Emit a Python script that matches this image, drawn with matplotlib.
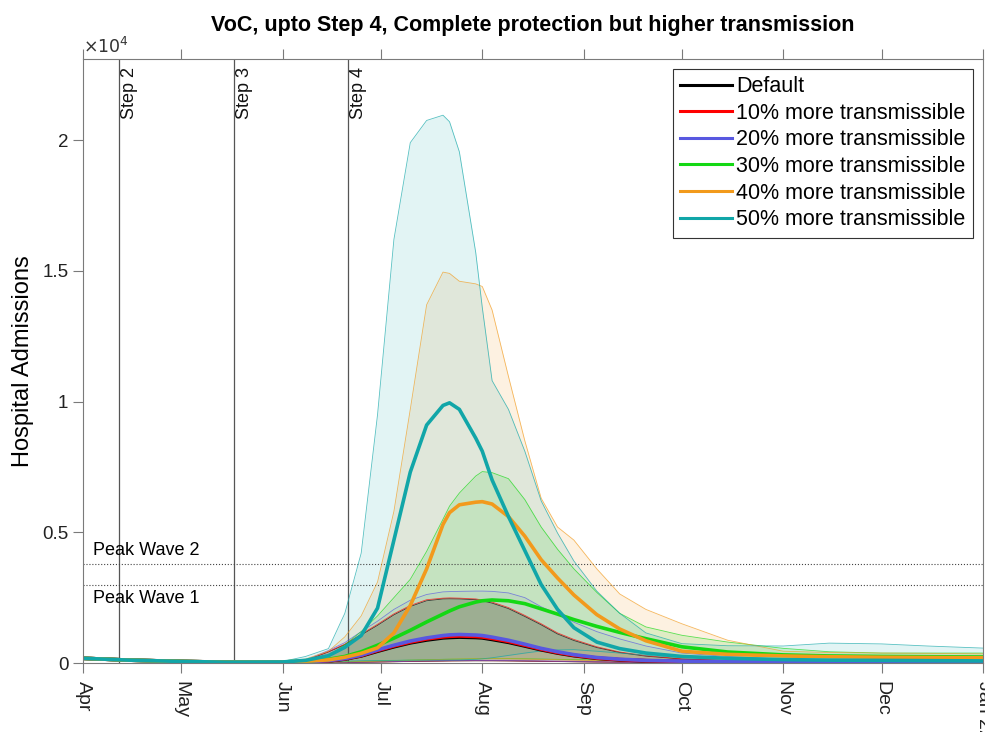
import pandas as pd
import matplotlib.pyplot as plt
import matplotlib.dates as mdates
from matplotlib.ticker import FuncFormatter

# Sample dates (shared by every scenario)
dates = pd.to_datetime([
    '2021-04-01', '2021-04-15', '2021-05-01', '2021-05-15', '2021-06-01', '2021-06-08',
    '2021-06-15', '2021-06-20', '2021-06-25', '2021-06-30', '2021-07-05', '2021-07-10',
    '2021-07-15', '2021-07-20', '2021-07-22', '2021-07-25', '2021-07-30', '2021-08-01',
    '2021-08-04', '2021-08-09', '2021-08-14', '2021-08-19', '2021-08-24', '2021-08-29',
    '2021-09-05', '2021-09-12', '2021-09-20', '2021-10-01', '2021-10-15', '2021-11-01',
    '2021-11-15', '2021-12-01', '2021-12-15', '2022-01-01'])

# Central estimates
default_mid = [180, 110, 60, 30, 35, 48, 80, 150, 270, 450, 620, 770, 880, 960, 975, 990, 975,
               960, 900, 790, 650, 505, 380, 280, 180, 120, 85, 55, 40, 32, 28, 25, 24, 22]
t10_mid = [180, 110, 60, 30, 35, 50, 85, 160, 285, 475, 650, 800, 920, 1000, 1020, 1035, 1015,
           995, 940, 825, 680, 530, 400, 295, 190, 130, 90, 60, 45, 35, 30, 28, 26, 25]
t20_mid = [180, 110, 60, 30, 35, 50, 90, 170, 300, 500, 680, 840, 960, 1050, 1075, 1090, 1070,
           1050, 990, 870, 720, 560, 430, 320, 210, 145, 100, 70, 50, 40, 35, 30, 30, 28]
t30_mid = [180, 110, 60, 30, 40, 70, 140, 250, 430, 680, 950, 1250, 1570, 1870, 1990, 2150, 2330,
           2380, 2410, 2380, 2270, 2070, 1870, 1660, 1400, 1170, 930, 620, 420, 310, 270, 250, 240, 230]
t40_mid = [180, 110, 60, 30, 40, 70, 120, 220, 370, 580, 1150, 2200, 3600, 5300, 5750, 6050, 6150,
           6170, 6080, 5600, 4850, 3950, 3250, 2600, 1850, 1300, 850, 450, 330, 270, 240, 220, 210, 200]
t50_mid = [180, 110, 60, 30, 40, 100, 280, 600, 1050, 2100, 4700, 7300, 9100, 9850, 9950, 9700, 8600,
           8100, 7000, 5600, 4300, 3000, 2050, 1350, 800, 550, 380, 250, 180, 130, 110, 100, 90, 80]

# Upper bounds
default_up = [190, 120, 65, 35, 50, 95, 420, 700, 1070, 1440, 1840, 2160, 2380, 2450, 2455, 2450, 2420,
              2380, 2290, 2080, 1780, 1460, 1110, 860, 590, 400, 260, 150, 95, 65, 50, 42, 38, 33]
t10_up = [190, 120, 65, 35, 50, 100, 440, 720, 1100, 1480, 1880, 2200, 2420, 2480, 2490, 2480, 2450,
          2410, 2330, 2120, 1820, 1500, 1150, 900, 620, 420, 280, 160, 100, 70, 55, 45, 40, 35]
t20_up = [190, 120, 65, 35, 50, 110, 480, 780, 1200, 1600, 2050, 2400, 2620, 2720, 2730, 2740, 2750,
          2750, 2740, 2680, 2500, 2150, 1870, 1560, 1200, 920, 650, 380, 250, 150, 110, 90, 80, 70]
t30_up = [190, 120, 65, 35, 50, 100, 250, 700, 1200, 1800, 2500, 3200, 4270, 5500, 6000, 6500, 7150,
          7320, 7280, 7050, 6250, 5200, 4350, 3600, 2700, 1900, 1380, 1060, 800, 560, 430, 380, 380, 380]
t40_up = [190, 120, 65, 35, 60, 150, 450, 1000, 1800, 3100, 5800, 9700, 13700, 14950, 14900, 14600, 14500,
          14400, 13500, 10960, 8500, 6300, 5200, 4700, 3600, 2640, 2050, 1500, 870, 450, 400, 380, 370, 350]
t50_up = [200, 130, 70, 40, 60, 250, 550, 1900, 4200, 9500, 16200, 19900, 20750, 20950, 20700, 19550, 15700,
          13600, 10800, 9700, 8100, 6200, 4970, 3900, 2750, 1900, 1150, 740, 660, 650, 760, 730, 650, 570]

# Lower bounds
default_lo = [150, 90, 50, 22, 12, 12, 15, 20, 28, 38, 48, 58, 68, 76, 80, 82, 85,
              85, 84, 80, 72, 64, 56, 48, 38, 30, 24, 18, 14, 11, 10, 9, 8, 8]
t10_lo = [150, 90, 50, 22, 12, 13, 16, 22, 30, 40, 50, 62, 72, 80, 83, 86, 90,
          89, 88, 84, 76, 68, 58, 50, 40, 32, 25, 19, 15, 12, 10, 9, 9, 8]
t20_lo = [150, 90, 50, 22, 12, 14, 18, 24, 33, 44, 56, 68, 78, 88, 92, 95, 98,
          97, 96, 92, 84, 74, 64, 55, 44, 35, 28, 21, 16, 13, 11, 10, 10, 9]
t30_lo = [160, 95, 50, 25, 20, 25, 35, 50, 65, 80, 95, 110, 125, 140, 145, 150, 160,
          163, 165, 165, 160, 150, 140, 130, 115, 100, 85, 70, 55, 45, 40, 35, 35, 35]
t40_lo = [160, 95, 50, 25, 20, 25, 35, 45, 60, 75, 90, 105, 120, 135, 143, 150, 160,
          163, 165, 160, 150, 140, 125, 110, 95, 80, 70, 55, 45, 40, 35, 30, 30, 30]
t50_lo = [160, 95, 50, 25, 20, 30, 50, 70, 85, 95, 100, 105, 110, 115, 116, 118, 140,
          160, 200, 290, 380, 460, 500, 510, 450, 380, 300, 200, 150, 100, 80, 70, 60, 50]

labels = ['Default', '10% more transmissible', '20% more transmissible',
          '30% more transmissible', '40% more transmissible', '50% more transmissible']
mids = [default_mid, t10_mid, t20_mid, t30_mid, t40_mid, t50_mid]
ups = [default_up, t10_up, t20_up, t30_up, t40_up, t50_up]
los = [default_lo, t10_lo, t20_lo, t30_lo, t40_lo, t50_lo]
colors = ['#000000', '#ff0000', '#5858e0', '#14d814', '#f29a1c', '#11a6a8']
fill_alpha = [0.22, 0.08, 0.08, 0.14, 0.13, 0.12]

step_dates = pd.to_datetime(['2021-04-12', '2021-05-17', '2021-06-21'])
step_labels = ['Step 2', 'Step 3', 'Step 4']
peak_levels = [3000, 3800]
peak_labels = ['Peak Wave 1', 'Peak Wave 2']
yticks = [0, 5000, 10000, 15000, 20000]

plt.rcParams['font.family'] = ['Liberation Sans', 'DejaVu Sans']
plt.rcParams['axes.edgecolor'] = '#7a7a7a'
plt.rcParams['xtick.color'] = '#7a7a7a'
plt.rcParams['ytick.color'] = '#7a7a7a'
plt.rcParams['xtick.labelcolor'] = '#222222'
plt.rcParams['ytick.labelcolor'] = '#222222'

fig = plt.figure(figsize=(9.85, 7.32), dpi=100)
ax = fig.add_axes([83 / 985, 69 / 732, 900 / 985, 604 / 732])

# Bands first, then central lines on top
for lo, up, c, a in zip(los, ups, colors, fill_alpha):
    ax.fill_between(dates, lo, up, color=c, alpha=a, linewidth=0)
    ax.plot(dates, up, color=c, linewidth=0.6, alpha=0.7)
    ax.plot(dates, lo, color=c, linewidth=0.6, alpha=0.7)

lines = []
for mid, c, lab in zip(mids, colors, labels):
    line, = ax.plot(dates, mid, color=c, linewidth=2.6, label=lab)
    lines.append(line)

# Roadmap steps
for d, lab in zip(step_dates, step_labels):
    ax.axvline(d, color='#555555', linewidth=0.9, zorder=1)
    ax.text(d + pd.Timedelta(days=0.6), 22800, lab, rotation=90, ha='left', va='top',
            fontsize=13, color='#111111')

# Previous wave peaks
for lvl in peak_levels:
    ax.axhline(lvl, color='#444444', linestyle=':', linewidth=0.8, zorder=1)
ax.annotate(peak_labels[1], xy=(0.011, peak_levels[1]), xycoords=('axes fraction', 'data'),
            xytext=(0, 3), textcoords='offset points', va='bottom', fontsize=13)
ax.annotate(peak_labels[0], xy=(0.011, peak_levels[0]), xycoords=('axes fraction', 'data'),
            xytext=(0, -4), textcoords='offset points', va='top', fontsize=13)

ax.set_xlim(pd.Timestamp('2021-04-01'), pd.Timestamp('2022-01-01'))
ax.set_ylim(0, 23100)

ax.xaxis.set_major_locator(mdates.MonthLocator())
ax.xaxis.set_major_formatter(FuncFormatter(
    lambda v, p: 'Jan 22' if mdates.num2date(v).month == 1 else mdates.num2date(v).strftime('%b')))
ax.set_yticks(yticks)
ax.yaxis.set_major_formatter(FuncFormatter(lambda v, p: '%g' % (v / 1e4)))
ax.tick_params(axis='x', which='both', top=True, direction='out', length=7,
               labelsize=14, labelrotation=-90, pad=6)
ax.tick_params(axis='y', direction='out', length=7, labelsize=13.5, right=False)
for lab in ax.get_xticklabels():
    lab.set_ha('center')
    lab.set_va('top')

ax.text(0.0, 1.005, r'$\times10^{4}$', transform=ax.transAxes, ha='left', va='bottom',
        fontsize=12.5, color='#333333')
ax.set_ylabel('Hospital Admissions', fontsize=17, labelpad=6)
ax.set_title('VoC, upto Step 4, Complete protection but higher transmission',
             fontsize=15.5, fontweight='bold', pad=20)

leg = ax.legend(lines, labels, loc='upper right', fontsize=15.5, handlelength=2.4,
                handletextpad=0.2, labelspacing=0.26, borderpad=0.35, borderaxespad=0.45,
                fancybox=False, framealpha=1)
leg.get_frame().set_edgecolor('#333333')
leg.get_frame().set_linewidth(0.8)
for h in leg.get_lines():
    h.set_linewidth(2.2)

plt.savefig('out.png', dpi=100)
